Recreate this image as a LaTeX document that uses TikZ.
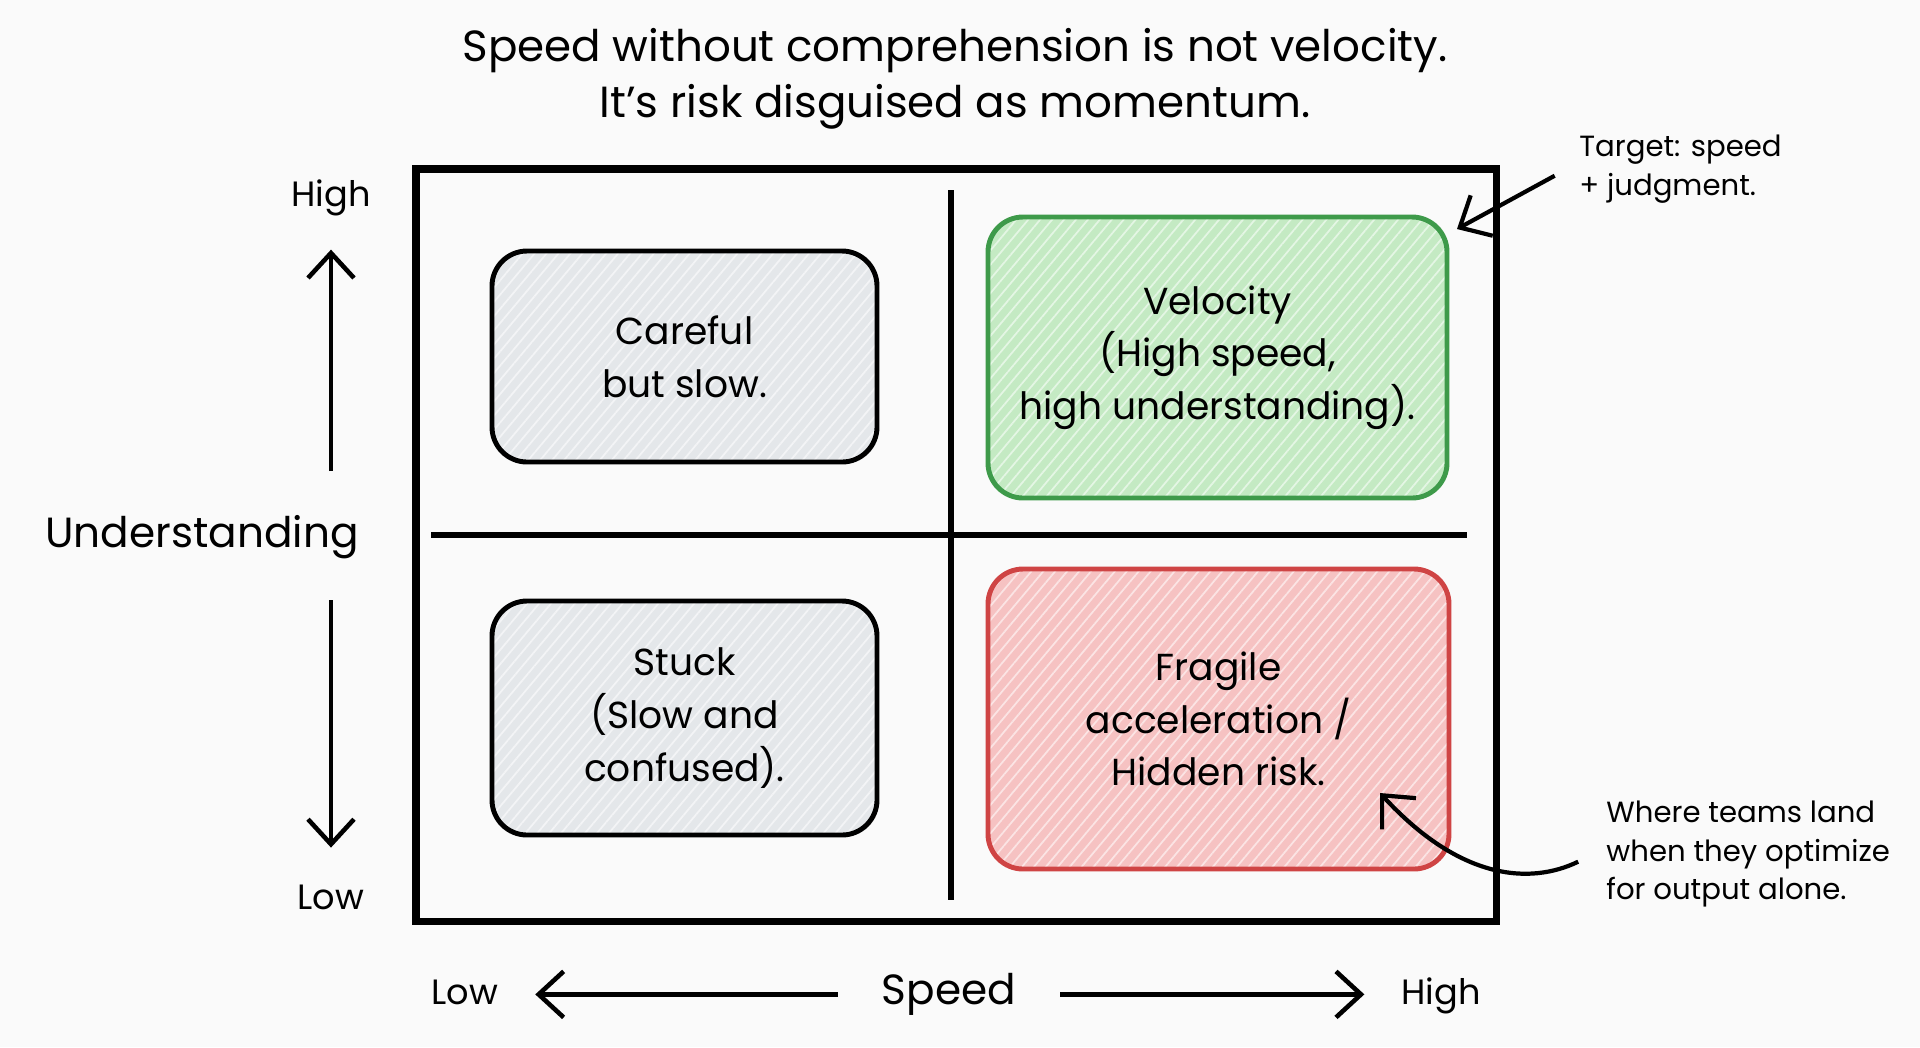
\documentclass[tikz,border=0pt]{standalone}
\usepackage{fontspec}
\setmainfont{Poppins}
\usetikzlibrary{arrows.meta,patterns.meta,positioning}

\definecolor{paper}{HTML}{FAFAFA}
\definecolor{greyfill}{HTML}{E4E7EA}
\definecolor{greenfill}{HTML}{C4EAC3}
\definecolor{greenline}{HTML}{3E9A4A}
\definecolor{redfill}{HTML}{F6C2C2}
\definecolor{redline}{HTML}{CF4444}

\newcommand{\fTitle}{\fontsize{12.4}{16}\selectfont}
\newcommand{\fBox}{\fontsize{10.7}{15}\selectfont}
\newcommand{\fAxis}{\fontsize{12}{15}\selectfont}
\newcommand{\fTick}{\fontsize{10}{12}\selectfont}
\newcommand{\fNote}{\fontsize{8.3}{11}\selectfont}

\tikzset{
    quad/.style 2 args={draw=#1, line width=1.4pt, rounded corners=0.35cm,
        preaction={fill=#2},
        pattern={Lines[angle=50,distance=2.6pt,line width=0.5pt]},
        pattern color=white!55!#2, align=center, font=\fBox},
    axis/.style={line width=1.3pt, -{Straight Barb[length=2.5mm,width=4.6mm]}},
    note/.style={anchor=west, align=left, font=\fNote},
    tick/.style={font=\fTick}
}

\begin{document}
\begin{tikzpicture}
            % Background
            \fill[paper] (0,0) rectangle (19.2,-10.47);
            % Title
            \node[align=center, font=\fTitle] (title) at (9.55,-0.79)
                {Speed without comprehension is not velocity.\\It's risk disguised as momentum.};
            % Frame
            \draw[line width=2pt] (4.16,-1.69) rectangle (14.96,-9.21);
            \draw[line width=1.5pt] (9.51,-1.90) -- (9.51,-9.00);
            \draw[line width=1.5pt] (4.31,-5.35) -- (14.67,-5.35);
            % Quadrants
            \node[quad={black}{greyfill}, minimum width=3.85cm, minimum height=2.11cm]
                (careful) at (6.845,-3.565) {Careful\\but slow.};
            \node[quad={greenline}{greenfill}, minimum width=4.59cm, minimum height=2.81cm]
                (velocity) at (12.175,-3.575) {Velocity\\(High speed,\\high understanding).};
            \node[quad={black}{greyfill}, minimum width=3.85cm, minimum height=2.34cm]
                (stuck) at (6.845,-7.18) {Stuck\\(Slow and\\confused).};
            \node[quad={redline}{redfill}, minimum width=4.61cm, minimum height=3.0cm]
                (fragile) at (12.185,-7.19) {Fragile\\acceleration /\\Hidden risk.};
            % Understanding axis
            \node[font=\fAxis] (und) at (2.02,-5.37) {Understanding};
            \node[tick] (yhigh) at (3.31,-1.98) {High};
            \node[tick] (ylow) at (3.31,-8.97) {Low};
            \coordinate (upfrom) at (3.31,-4.71);
            \coordinate (downfrom) at (3.31,-6.00);
            \draw[axis, shorten >=6pt] (upfrom) -- (yhigh);
            \draw[axis, shorten >=7pt] (downfrom) -- (ylow);
            % Speed axis
            \node[tick, anchor=base] (xlow) at (4.65,-10.04) {Low};
            \node[font=\fAxis, anchor=base] (speed) at (9.49,-10.04) {Speed};
            \node[tick, anchor=base] (xhigh) at (14.41,-10.04) {High};
            \draw[axis, shorten <=9pt, shorten >=7pt] (speed.mid west) -- (xlow.mid east);
            \draw[axis, shorten <=9pt, shorten >=7pt] (speed.mid east) -- (xhigh.mid west);
            % Notes
            \node[note] (target) at (15.67,-1.69) {Target: speed\\+ judgment.};
            \coordinate (targettip) at (14.57,-2.29);
            \draw[axis, line width=1.2pt, shorten <=4pt] (target.west) -- (targettip);
            \node[note] (where) at (15.94,-8.54) {Where teams land\\when they optimize\\for output alone.};
            \coordinate (wheretip) at (13.8,-7.93);
            \draw[axis, line width=1.2pt, shorten <=5pt] (where.west)
                .. controls (15.3,-8.85) and (14.6,-8.8) .. (wheretip);
\end{tikzpicture}
\end{document}
